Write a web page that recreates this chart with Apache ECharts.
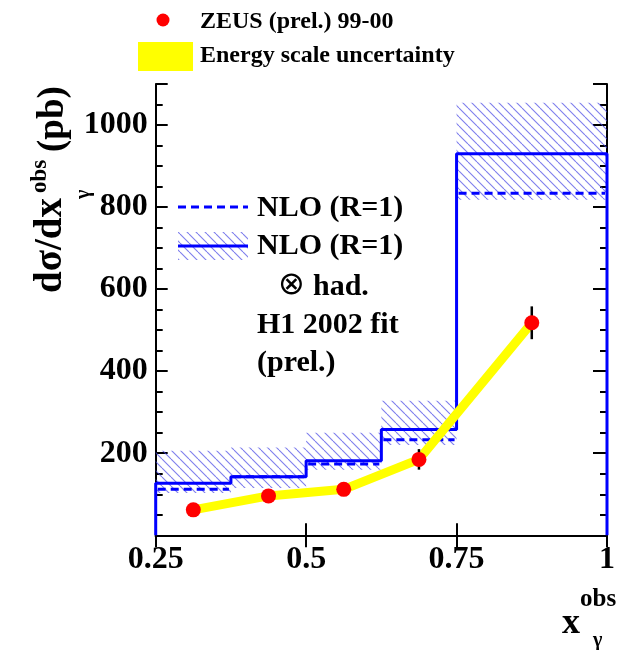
<!DOCTYPE html>
<html>
<head>
<meta charset="utf-8">
<script src="https://cdn.jsdelivr.net/npm/echarts@6/dist/echarts.min.js"></script>
<style>html,body{margin:0;padding:0;background:#fff}#c{width:625px;height:650px}</style>
</head>
<body>
<div id="c"></div>
<script>
// ---- data ----
const binEdges = [0.25, 0.375, 0.5, 0.625, 0.75, 1.0];
const nloHad = [127, 143, 182, 258, 930];      // NLO (R=1) x had. (solid)
const nloParton = [112, 143, 174, 233, 834];   // NLO (R=1) (dashed)
const bandLow = [103, 115, 160, 220, 818];     // hatched uncertainty band
const bandHigh = [206, 214, 250, 328, 1054];
const xPoints = [0.3125, 0.4375, 0.5625, 0.6875, 0.875];
const zeus = [62, 96, 112, 185, 518];
const zeusErr = [6, 6, 8, 25, 40];
const xTickLabels = {0.25: '0.25', 0.5: '0.5', 0.75: '0.75', 1: '1'};
const yTickLabels = {200: '200', 400: '400', 600: '600', 800: '800', 1000: '1000'};

const FONT = "'Liberation Serif', 'DejaVu Serif', serif";
const BLUE = '#0000ff';

// hatch pattern
function makeHatch() {
  const c = document.createElement('canvas');
  c.width = 9; c.height = 9;
  const g = c.getContext('2d');
  g.strokeStyle = 'rgba(70,70,230,0.7)';
  g.lineWidth = 1.1;
  for (const k of [-9, 0, 9]) {
    g.beginPath(); g.moveTo(k, 0); g.lineTo(k + 9, 9); g.stroke();
  }
  return c;
}
const hatch = {image: makeHatch(), repeat: 'repeat'};

const hatchData = bandLow.map((lo, i) => [binEdges[i], binEdges[i + 1], lo, bandHigh[i]]);
const dashData = nloParton.map((v, i) => [binEdges[i], binEdges[i + 1], v]);
const solidData = [[binEdges[0], 0]];
nloHad.forEach((v, i) => { solidData.push([binEdges[i], v]); solidData.push([binEdges[i + 1], v]); });
solidData.push([binEdges[binEdges.length - 1], 0]);
const ptData = xPoints.map((x, i) => [x, zeus[i]]);
const errData = xPoints.map((x, i) => [x, zeus[i] - zeusErr[i], zeus[i] + zeusErr[i]]);

const chart = echarts.init(document.getElementById('c'), null, {renderer: 'canvas'});
const axisLineStyle = {color: '#000', width: 2};
const lbl = {fontFamily: FONT, fontWeight: 'bold', fontSize: 32, color: '#000'};

const option = {
  animation: false,
  backgroundColor: '#fff',
  grid: {left: 155.7, right: 18, top: 84, bottom: 114.7},
  xAxis: [
    {type: 'value', min: 0.25, max: 1, interval: 0.25, position: 'bottom',
     axisLine: {show: true, lineStyle: axisLineStyle},
     axisTick: {show: true, inside: true, length: 12, lineStyle: axisLineStyle},
     axisLabel: Object.assign({margin: 8, formatter: v => xTickLabels[v] || ''}, lbl),
     splitLine: {show: false}},
    {type: 'value', min: 0.25, max: 1, interval: 0.25, position: 'top',
     axisLine: {show: true, lineStyle: axisLineStyle},
     axisTick: {show: true, inside: true, length: 12, lineStyle: axisLineStyle},
     axisLabel: {show: false}, splitLine: {show: false}}
  ],
  yAxis: [
    {type: 'value', min: 0, max: 1100, interval: 200, position: 'left',
     axisLine: {show: true, lineStyle: axisLineStyle},
     axisTick: {show: true, inside: true, length: 12, lineStyle: axisLineStyle},
     axisLabel: Object.assign({margin: 8, formatter: v => yTickLabels[v] || ''}, lbl),
     splitLine: {show: false}},
    {type: 'value', min: 0, max: 1100, interval: 50, position: 'left',
     axisLine: {show: false},
     axisTick: {show: true, inside: true, length: 7, lineStyle: axisLineStyle},
     axisLabel: {show: false}, splitLine: {show: false}},
    {type: 'value', min: 0, max: 1100, interval: 200, position: 'right',
     axisLine: {show: true, lineStyle: axisLineStyle},
     axisTick: {show: true, inside: true, length: 14, lineStyle: axisLineStyle},
     axisLabel: {show: false}, splitLine: {show: false}},
    {type: 'value', min: 0, max: 1100, interval: 50, position: 'right',
     axisLine: {show: false},
     axisTick: {show: true, inside: true, length: 7, lineStyle: axisLineStyle},
     axisLabel: {show: false}, splitLine: {show: false}}
  ],
  series: [
    {type: 'custom', name: 'band', z: 2, data: hatchData, encode: {x: [0, 1], y: [2, 3]},
     renderItem: (params, api) => {
       const p0 = api.coord([api.value(0), api.value(3)]);
       const p1 = api.coord([api.value(1), api.value(2)]);
       return {type: 'rect', shape: {x: p0[0], y: p0[1], width: p1[0] - p0[0], height: p1[1] - p0[1]},
               style: {fill: hatch, stroke: null}};
     }},
    {type: 'custom', name: 'NLO', z: 3, data: dashData, encode: {x: [0, 1], y: 2},
     renderItem: (params, api) => {
       const p0 = api.coord([api.value(0), api.value(2)]);
       const p1 = api.coord([api.value(1), api.value(2)]);
       return {type: 'line', shape: {x1: p0[0] + 2, y1: p0[1], x2: p1[0] - 2, y2: p1[1]},
               style: {stroke: BLUE, lineWidth: 3, lineDash: [8, 5]}};
     }},
    {type: 'line', name: 'NLO had', z: 4, data: solidData, symbol: 'none', clip: false,
     lineStyle: {color: BLUE, width: 3}},
    {type: 'line', name: 'Energy scale', z: 5, data: ptData, symbol: 'none', clip: false,
     lineStyle: {color: '#ffff00', width: 9, join: 'round', cap: 'butt'}},
    {type: 'custom', name: 'err', z: 6, data: errData, encode: {x: 0, y: [1, 2]},
     renderItem: (params, api) => {
       const p0 = api.coord([api.value(0), api.value(1)]);
       const p1 = api.coord([api.value(0), api.value(2)]);
       return {type: 'line', shape: {x1: p0[0], y1: p0[1], x2: p1[0], y2: p1[1]},
               style: {stroke: '#000', lineWidth: 2.5}};
     }},
    {type: 'scatter', name: 'ZEUS', z: 7, data: ptData, symbol: 'circle', symbolSize: 15,
     itemStyle: {color: '#ff0000', opacity: 1}}
  ],
  graphic: [
    // top legend
    {type: 'circle', shape: {cx: 163, cy: 20, r: 6.5}, style: {fill: '#ff0000'}},
    {type: 'text', x: 200, y: 22, style: {text: 'ZEUS (prel.) 99-00', font: 'bold 24px ' + FONT, fill: '#000', textVerticalAlign: 'middle'}},
    {type: 'rect', shape: {x: 138, y: 42, width: 55, height: 29}, style: {fill: '#ffff00'}},
    {type: 'text', x: 200, y: 56, style: {text: 'Energy scale uncertainty', font: 'bold 24px ' + FONT, fill: '#000', textVerticalAlign: 'middle'}},
    // inner legend
    {type: 'line', shape: {x1: 178, y1: 207, x2: 248, y2: 207}, style: {stroke: BLUE, lineWidth: 3, lineDash: [8, 5]}},
    {type: 'text', x: 257, y: 208, style: {text: 'NLO (R=1)', font: 'bold 30px ' + FONT, fill: '#000', textVerticalAlign: 'middle'}},
    {type: 'rect', shape: {x: 178, y: 232, width: 70, height: 28}, style: {fill: hatch}},
    {type: 'line', shape: {x1: 178, y1: 246, x2: 248, y2: 246}, style: {stroke: BLUE, lineWidth: 3}},
    {type: 'text', x: 257, y: 246, style: {text: 'NLO (R=1)', font: 'bold 30px ' + FONT, fill: '#000', textVerticalAlign: 'middle'}},
    {type: 'text', x: 278, y: 286, style: {text: '\u2297', font: '32px "DejaVu Sans", sans-serif', fill: '#000', textVerticalAlign: 'middle'}},
    {type: 'text', x: 313, y: 287, style: {text: 'had.', font: 'bold 30px ' + FONT, fill: '#000', textVerticalAlign: 'middle'}},
    {type: 'text', x: 257, y: 325, style: {text: 'H1 2002 fit', font: 'bold 30px ' + FONT, fill: '#000', textVerticalAlign: 'middle'}},
    {type: 'text', x: 257, y: 363, style: {text: '(prel.)', font: 'bold 30px ' + FONT, fill: '#000', textVerticalAlign: 'middle'}},
    // y title (rotated)
    {type: 'group', x: 0, y: 0, rotation: Math.PI / 2, children: [
      {type: 'text', x: -293, y: 51, style: {text: 'd\u03c3/dx', font: 'bold 39px ' + FONT, fill: '#000', textVerticalAlign: 'middle'}},
      {type: 'text', x: -199, y: 84, style: {text: '\u03b3', font: 'bold 20px ' + FONT, fill: '#000', textVerticalAlign: 'middle'}},
      {type: 'text', x: -193, y: 40, style: {text: 'obs', font: 'bold 23px ' + FONT, fill: '#000', textVerticalAlign: 'middle'}},
      {type: 'text', x: -152, y: 53, style: {text: '(pb)', font: 'bold 37px ' + FONT, fill: '#000', textVerticalAlign: 'middle'}}
    ]},
    // x title
    {type: 'text', x: 562, y: 624, style: {text: 'x', font: 'bold 36px ' + FONT, fill: '#000', textVerticalAlign: 'middle'}},
    {type: 'text', x: 580, y: 600, style: {text: 'obs', font: 'bold 25px ' + FONT, fill: '#000', textVerticalAlign: 'middle'}},
    {type: 'text', x: 593, y: 641, style: {text: '\u03b3', font: 'bold 20px ' + FONT, fill: '#000', textVerticalAlign: 'middle'}}
  ]
};
chart.setOption(option);
</script>
</body>
</html>
